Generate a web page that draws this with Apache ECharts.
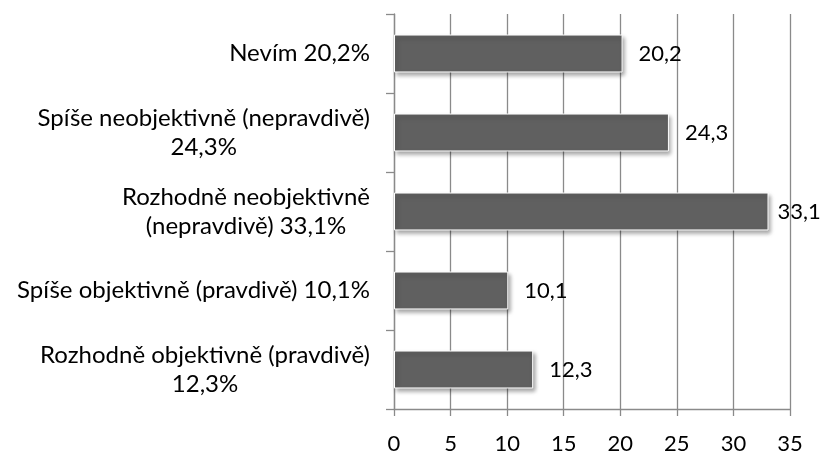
<!DOCTYPE html>
<html><head><meta charset="utf-8">
<script src="https://cdn.jsdelivr.net/npm/echarts@6/dist/echarts.min.js"></script>
<style>html,body{margin:0;padding:0;background:#fff}#c{width:825px;height:455px}</style>
</head><body><div id="c"></div>
<script>
const categories = [
  ['Nevím 20,2%'],
  ['Spíše neobjektivně (nepravdivě)', '24,3%'],
  ['Rozhodně neobjektivně', '(nepravdivě) 33,1%'],
  ['Spíše objektivně (pravdivě) 10,1%'],
  ['Rozhodně objektivně (pravdivě)', '12,3%']
];
const values = [20.2, 24.3, 33.1, 10.1, 12.3];
const xTicks = {min: 0, max: 35, interval: 5};

const FONT = 'Lato';
const gridColor = '#8a8a8a';
const chart = echarts.init(document.getElementById('c'));
chart.setOption({
  animation: false,
  grid: {left: 394, right: 35, top: 14, bottom: 43, containLabel: false},
  xAxis: {
    type: 'value', min: xTicks.min, max: xTicks.max, interval: xTicks.interval,
    axisLine: {show: true, lineStyle: {color: gridColor, width: 1.3}},
    axisTick: {show: true, length: 7, lineStyle: {color: gridColor, width: 1.3}},
    splitLine: {show: true, lineStyle: {color: gridColor, width: 1.3}},
    axisLabel: {color: '#000', fontFamily: FONT, fontSize: 22, margin: 24}
  },
  yAxis: {
    type: 'category', inverse: true,
    data: categories.map(l => l.join('\n')),
    axisLine: {show: true, lineStyle: {color: gridColor, width: 1.3}},
    axisTick: {show: true, length: 8, lineStyle: {color: gridColor, width: 1.3}},
    axisLabel: {
      margin: 24, color: '#000', fontFamily: FONT, fontSize: 24, lineHeight: 29,
      formatter: v => v.split('\n').map(s => '{c|' + s + '}').join('\n'),
      rich: {c: {align: 'center', fontFamily: FONT, fontSize: 24, lineHeight: 29, color: '#000'}}
    }
  },
  series: [{
    type: 'bar',
    data: values.map(v => v > 30 ? {value: v, label: {distance: 9}} : v),
    barCategoryGap: '52%',
    itemStyle: {
      color: '#606060', borderColor: '#ffffff', borderWidth: 1,
      shadowColor: 'rgba(0,0,0,0.35)', shadowBlur: 4, shadowOffsetX: 2, shadowOffsetY: 3
    },
    label: {
      show: true, position: 'right', distance: 16, color: '#000',
      fontFamily: FONT, fontSize: 22,
      formatter: p => String(p.value).replace('.', ',')
    }
  }]
});
</script></body></html>
